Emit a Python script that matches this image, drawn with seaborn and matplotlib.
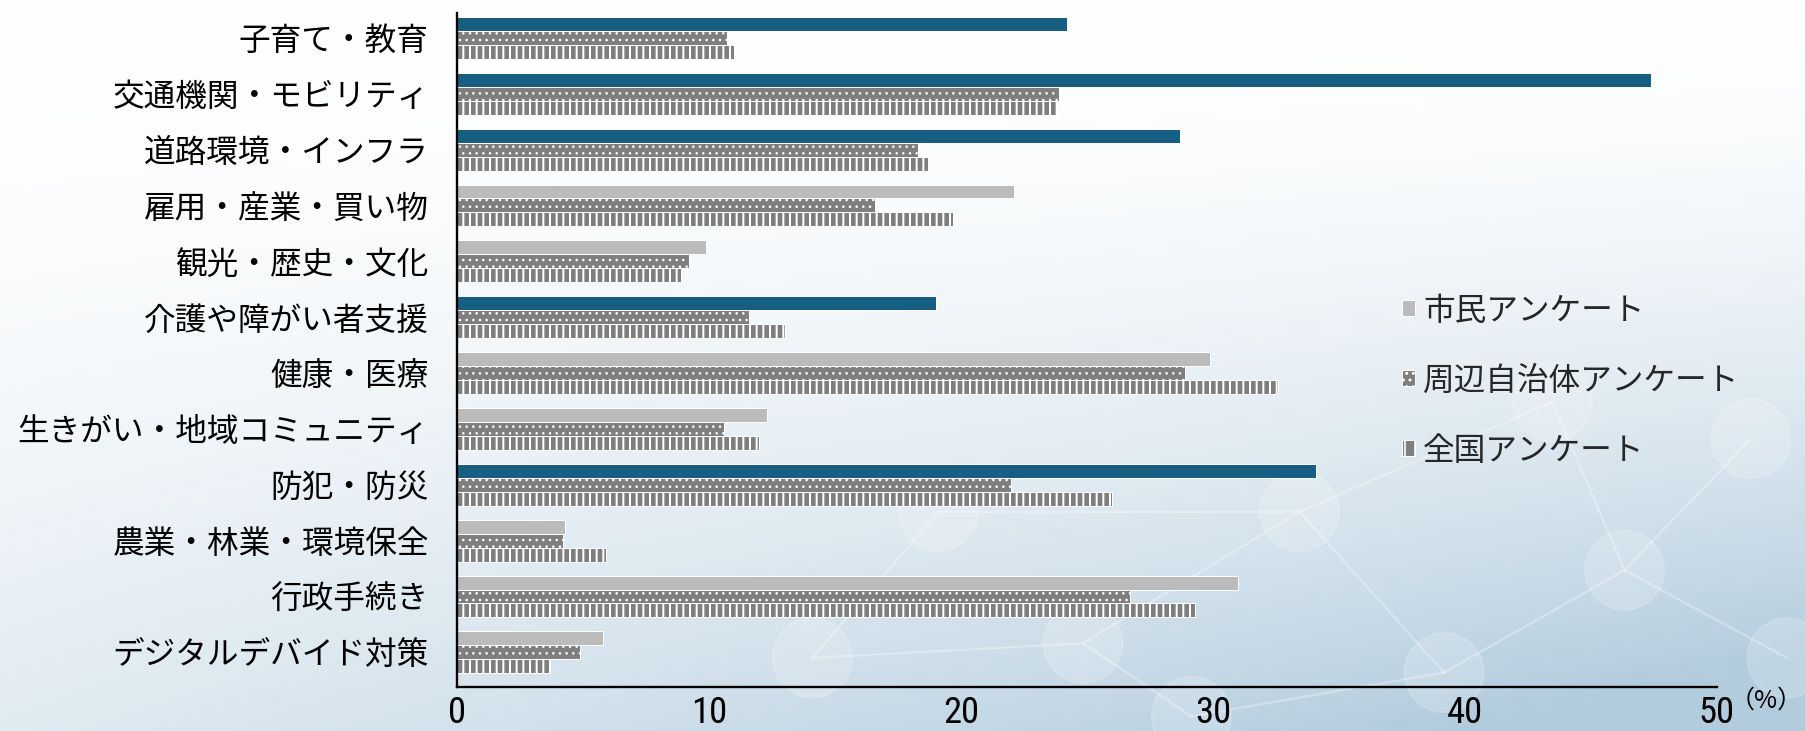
import numpy as np
import pandas as pd
import matplotlib
matplotlib.use("Agg")
import matplotlib.pyplot as plt
from matplotlib import font_manager
from matplotlib.patches import Patch, Ellipse
import seaborn as sns

# ---------------- data ----------------
categories = ["子育て・教育", "交通機関・モビリティ", "道路環境・インフラ", "雇用・産業・買い物",
              "観光・歴史・文化", "介護や障がい者支援", "健康・医療", "生きがい・地域コミュニティ",
              "防犯・防災", "農業・林業・環境保全", "行政手続き", "デジタルデバイド対策"]
series_names = ["市民アンケート", "周辺自治体アンケート", "全国アンケート"]
citizen = [24.2, 47.4, 28.7, 22.1, 9.9, 19.0, 29.9, 12.3, 34.1, 4.3, 31.0, 5.8]
neighbor = [10.7, 23.9, 18.3, 16.6, 9.2, 11.6, 28.9, 10.6, 22.0, 4.2, 26.7, 4.9]
national = [11.0, 23.8, 18.7, 19.7, 8.9, 13.0, 32.6, 12.0, 26.0, 5.9, 29.3, 3.7]
highlight = [True, True, True, False, False, True, False, False, True, False, False, False]
x_ticks = [0, 10, 20, 30, 40, 50]
unit_label = "（%）"

# ---------------- style ----------------
sns.set_theme(style="white")
plt.rcParams["font.family"] = ["Noto Sans CJK JP", "DejaVu Sans"]

avail = {f.name for f in font_manager.fontManager.ttflist}
num_font = "Noto Sans CJK JP"
for cand in ["Liberation Sans Narrow", "Roboto Condensed", "DejaVu Sans Condensed", "Open Sans Condensed"]:
    if cand in avail:
        num_font = cand
        break

GRAY = "#bbbbbb"
DARK = "#7f7f7f"
BLUE = "#165f82"

DPI = 120
W, H = 1805, 731
fig = plt.figure(figsize=(W / DPI, H / DPI), dpi=DPI)

# background gradient (decorative)
bg = fig.add_axes([0, 0, 1, 1], zorder=-10)
h, w = 200, 500
yy, xx = np.mgrid[0:h, 0:w]
yf = yy / (h - 1)
xf = xx / (w - 1)
t = np.clip((yf ** 1.7) * (0.40 + 0.70 * xf) + 0.2 * np.clip(xf - 0.6, 0, 1) * yf, 0, 1)
c0 = np.array([1.0, 1.0, 1.0])
c1 = np.array([0.70, 0.80, 0.87])
img = c0[None, None, :] * (1 - t[..., None]) + c1[None, None, :] * t[..., None]
bg.imshow(img, aspect="auto", extent=[0, 1, 0, 1], origin="upper")
# faint network motif
nodes = [(0.60, 0.12), (0.72, 0.30), (0.80, 0.08), (0.90, 0.22), (0.97, 0.40),
         (0.52, 0.30), (0.86, 0.45), (0.66, 0.02), (0.99, 0.10), (0.45, 0.10)]
edges = [(0, 1), (1, 2), (2, 3), (3, 4), (1, 5), (1, 6), (0, 7), (3, 8), (0, 9), (2, 7), (3, 6), (5, 9)]
for a, b in edges:
    bg.plot([nodes[a][0], nodes[b][0]], [nodes[a][1], nodes[b][1]], color="white",
            alpha=0.3, lw=1.4, solid_capstyle="round")
r = 0.022
for (nx, ny) in nodes:
    bg.add_patch(Ellipse((nx, ny), 2 * r, 2 * r * W / H, facecolor="white",
                         alpha=0.18, edgecolor="white", lw=1.0))
bg.set_xlim(0, 1)
bg.set_ylim(0, 1)
bg.set_axis_off()

ax = fig.add_axes([0.2532, 0.0602, 0.9512 - 0.2532, 0.9826 - 0.0602])
ax.patch.set_alpha(0)

df = pd.DataFrame({
    "category": categories * 3,
    "value": citizen + neighbor + national,
    "survey": [series_names[0]] * 12 + [series_names[1]] * 12 + [series_names[2]] * 12,
})

sns.barplot(data=df, y="category", x="value", hue="survey", orient="h",
            order=categories, hue_order=series_names,
            palette=[GRAY, DARK, DARK], saturation=1, width=0.75,
            errorbar=None, legend=False, ax=ax)


def style_patch(p, face, hatch=None, hlw=None):
    p.set_facecolor(face)
    p.set_edgecolor("white")
    p.set_linewidth(0.6)
    if hatch:
        p.set_hatch(hatch)
        if hlw is not None:
            if hasattr(p, "set_hatch_linewidth"):
                p.set_hatch_linewidth(hlw)
            else:
                p._hatch_linewidth = hlw


for i, bar in enumerate(ax.containers[0]):
    style_patch(bar, BLUE if highlight[i] else GRAY)
for bar in ax.containers[1]:
    style_patch(bar, DARK, "...", 0.7)
for bar in ax.containers[2]:
    style_patch(bar, DARK, "|||", 1.2)

ax.set_xlim(0, 50)
ax.set_ylim(11.62, -0.45)
ax.set_xticks(x_ticks)
ax.set_xticklabels([str(v) for v in x_ticks], fontfamily=num_font, fontsize=22)
ax.set_xlabel("")
ax.set_ylabel("")
for s in ["top", "right"]:
    ax.spines[s].set_visible(False)
for s in ["left", "bottom"]:
    ax.spines[s].set_color("black")
    ax.spines[s].set_linewidth(1.4)
ax.tick_params(axis="x", direction="in", length=6, width=1.2, color="black",
               pad=5, labelcolor="black")
ax.tick_params(axis="y", length=0, pad=17, labelsize=19, labelcolor="black")
ax.grid(False)

fig.text(0.999, 0.042, unit_label, fontsize=15, ha="right", va="center", color="black")

handles = [
    Patch(facecolor=GRAY, edgecolor="white", linewidth=0.6),
    Patch(facecolor=DARK, edgecolor="white", linewidth=0.6, hatch="..."),
    Patch(facecolor=DARK, edgecolor="white", linewidth=0.6, hatch="||"),
]
leg = fig.legend(handles, series_names, loc="upper left", bbox_to_anchor=(0.777, 0.597),
                 frameon=False, fontsize=19, handlelength=0.4, handleheight=0.4,
                 handletextpad=0.25, labelspacing=1.2, borderpad=0, borderaxespad=0)

fig.savefig("out.png", dpi=DPI)
